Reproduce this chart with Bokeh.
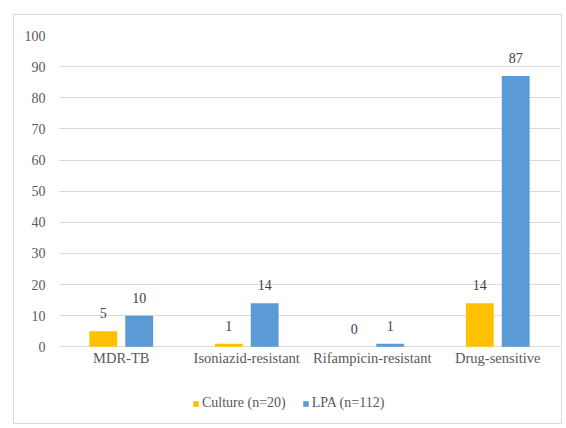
from bokeh.plotting import figure
from bokeh.models import ColumnDataSource, Legend, LegendItem, LabelSet, FactorRange, Range1d
from bokeh.transform import dodge
from bokeh.core.properties import value
from bokeh.embed import file_html
from bokeh.resources import INLINE

categories = ["MDR-TB", "Isoniazid-resistant", "Rifampicin-resistant", "Drug-sensitive"]
culture = [5, 1, 0, 14]
lpa = [10, 14, 1, 87]
series_names = ["Culture (n=20)", "LPA (n=112)"]
y_ticks = [0, 10, 20, 30, 40, 50, 60, 70, 80, 90, 100]

src = ColumnDataSource(dict(cat=categories, zero=[0] * len(categories),
                            culture=culture, lpa=lpa,
                            culture_txt=[str(v) for v in culture],
                            lpa_txt=[str(v) for v in lpa]))

FONT = "Liberation Serif"

# frame extends below zero so the category labels and legend sit inside it
p = figure(x_range=FactorRange(*categories), y_range=Range1d(-24, 100),
           x_axis_location=None,
           width=549, height=410, output_backend="svg", toolbar_location=None,
           min_border_left=44, min_border_right=3, min_border_top=20, min_border_bottom=4,
           margin=(14, 0, 0, 13), styles={"border": "1px solid #d9d9d9", "box-sizing": "border-box"})
p.outline_line_color = None
p.background_fill_color = "white"

c_r = p.vbar(x=dodge("cat", -0.143, range=p.x_range), top="culture", width=0.222,
             source=src, fill_color="#FFC000", line_color=None)
l_r = p.vbar(x=dodge("cat", 0.143, range=p.x_range), top="lpa", width=0.222,
             source=src, fill_color="#5B9BD5", line_color=None)

for col, off in (("culture", -0.143), ("lpa", 0.143)):
    p.add_layout(LabelSet(x=dodge("cat", off, range=p.x_range), y=col, text=col + "_txt",
                          source=src, text_align="center", text_baseline="bottom",
                          y_offset=13, text_font=value(FONT), text_font_size=value("14px"),
                          text_color="#404040"))

# category labels under the zero line
p.add_layout(LabelSet(x="cat", y="zero", text="cat", source=src,
                      text_align="center", text_baseline="top", y_offset=-3,
                      text_font=value(FONT), text_font_size=value("14.5px"),
                      text_color="#595959"))

p.yaxis.ticker = y_ticks
p.yaxis.axis_line_color = None
p.yaxis.major_tick_line_color = None
p.yaxis.minor_tick_line_color = None
p.yaxis.major_label_text_font = FONT
p.yaxis.major_label_text_font_size = "14px"
p.yaxis.major_label_text_color = "#595959"
p.yaxis.major_label_standoff = 7

p.xgrid.grid_line_color = None
p.ygrid.grid_line_color = "#d9d9d9"

legend = Legend(items=[LegendItem(label=series_names[0], renderers=[c_r]),
                       LegendItem(label=series_names[1], renderers=[l_r])],
                orientation="horizontal", location=(134, 10),
                glyph_width=7, glyph_height=7, label_standoff=3, spacing=16,
                padding=0, margin=0, border_line_color=None, background_fill_alpha=0,
                label_text_font=FONT, label_text_font_size="14px",
                label_text_color="#595959")
p.add_layout(legend, "center")

open("out.html", "w").write(file_html(p, INLINE))
